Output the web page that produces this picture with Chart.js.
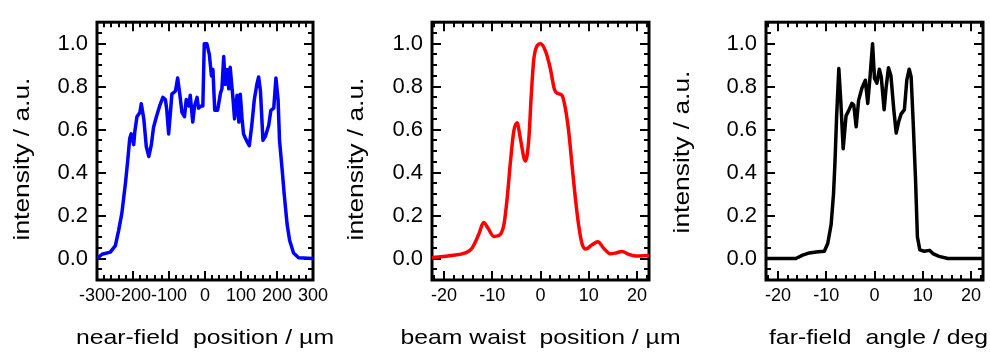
<!DOCTYPE html>
<html>
<head>
<meta charset="utf-8">
<script src="https://cdn.jsdelivr.net/npm/chart.js@4.4.1/dist/chart.umd.min.js"></script>
<style>
  body { margin: 0; background: #fff; }
  #wrap { position: relative; width: 990px; height: 356px; }
  canvas { position: absolute; top: 0; left: 0; }
</style>
</head>
<body>
<div id="wrap">
  <canvas id="near" width="990" height="356"></canvas>
  <canvas id="waist" width="990" height="356"></canvas>
  <canvas id="far" width="990" height="356"></canvas>
</div>
<script>
// near-field profile (position in µm)
const nearX = [-300, -286, -263, -249, -240, -231, -221, -215, -209, -205, -198, -195, -189, -181, -177,
  -170, -163, -156, -149, -143, -135, -126, -117, -110, -106, -101, -96, -92, -82, -76,
  -70, -64, -57, -52, -45, -41, -34, -29, -22, -18, -11, -6, -2, 5, 12,
  18, 22, 27, 35, 43, 47, 52, 56, 61, 66, 70, 78, 82, 89, 94,
  98, 103, 107, 115, 123, 130, 137, 144, 149, 154, 161, 168, 177, 183, 191,
  197, 203, 207, 214, 220, 228, 235, 246, 260, 300];
const nearY = [0.00, 0.02, 0.03, 0.06, 0.13, 0.21, 0.35, 0.45, 0.56, 0.58, 0.53, 0.59, 0.66, 0.68, 0.72,
  0.65, 0.52, 0.475, 0.53, 0.61, 0.66, 0.71, 0.75, 0.74, 0.69, 0.58, 0.68, 0.765, 0.78, 0.84,
  0.765, 0.68, 0.66, 0.74, 0.71, 0.76, 0.635, 0.71, 0.75, 0.70, 0.71, 0.71, 1.00, 1.00, 0.95,
  0.85, 0.88, 0.69, 0.69, 0.77, 0.79, 0.94, 0.81, 0.88, 0.79, 0.89, 0.74, 0.65, 0.76, 0.635,
  0.765, 0.65, 0.58, 0.55, 0.525, 0.62, 0.74, 0.81, 0.845, 0.78, 0.55, 0.57, 0.62, 0.69, 0.70,
  0.84, 0.74, 0.55, 0.42, 0.30, 0.16, 0.085, 0.026, 0.004, 0.0];

// beam waist profile (position in µm)
const waistX = [-22.5, -18.4, -15.6, -14.2, -12.8, -11.8, -10.9, -9.7, -8.7, -7.6,
  -6.95, -6.25, -5.55, -4.85, -4.2, -3.15, -2.45, -1.9, -1.4, -0.7,
  0, 1.0, 2.0, 2.9, 3.6, 4.5, 5.15, 5.85, 6.55, 7.2,
  7.9, 8.6, 9.4, 10.7, 11.9, 13.1, 14.5, 15.65, 16.9, 18.3, 19.7, 22.5];
const waistY = [0.004, 0.014, 0.026, 0.048, 0.113, 0.168, 0.142, 0.103, 0.106, 0.157,
  0.272, 0.446, 0.591, 0.632, 0.562, 0.454, 0.548, 0.765, 0.925, 0.99,
  1.0, 0.968, 0.888, 0.787, 0.768, 0.758, 0.70, 0.591, 0.432, 0.287,
  0.157, 0.07, 0.044, 0.064, 0.078, 0.048, 0.022, 0.026, 0.033, 0.019, 0.012, 0.014];

// far-field profile (angle in deg)
const farX = [-22.5, -16.3, -14.9, -13.5, -12.1, -10.4, -9.7, -9.0, -8.5, -8.2,
  -7.85, -7.4, -7.0, -6.5, -5.9, -5.4, -4.7, -4.3, -3.8, -3.3,
  -2.6, -1.9, -1.4, -0.9, -0.4, 0.0, 0.5, 1.0, 1.4, 2.0,
  2.4, 2.9, 3.4, 4.0, 4.5, 5.0, 5.5, 6.2, 6.7, 7.2,
  7.6, 8.05, 8.5, 8.9, 9.4, 10.3, 11.4, 12.1, 13.4, 15.2, 22.5];
const farY = [0, 0, 0.016, 0.026, 0.03, 0.034, 0.07, 0.157, 0.30, 0.446,
  0.664, 0.884, 0.736, 0.511, 0.664, 0.686, 0.722, 0.714, 0.613, 0.736,
  0.794, 0.83, 0.722, 0.852, 1.0, 0.838, 0.816, 0.881, 0.845, 0.693,
  0.794, 0.888, 0.852, 0.693, 0.584, 0.635, 0.672, 0.693, 0.83, 0.881,
  0.845, 0.62, 0.374, 0.10, 0.04, 0.034, 0.038, 0.023, 0.01, 0, 0];

const intensityTicks = [0, 0.2, 0.4, 0.6, 0.8, 1.0];
const nearTicks = [-300, -200, -100, 0, 100, 200, 300];
const waistTicks = [-20, -10, 0, 10, 20];
const farTicks = [-20, -10, 0, 10, 20];

const yTitle = 'intensity / a.u.';
const nearTitle = 'near-field  position / µm';
const waistTitle = 'beam waist  position / µm';
const farTitle = 'far-field  angle / deg';

const FONT = '"Liberation Sans", Arial, Helvetica, sans-serif';

// box with inward ticks on all four sides
const framePlugin = {
  id: 'frame',
  beforeDatasetsDraw(chart, args, o) {
    const { ctx, chartArea: a, scales: { x, y } } = chart;
    ctx.save();
    ctx.strokeStyle = '#000';
    ctx.lineWidth = 2;
    ctx.beginPath();
    const n0 = Math.ceil(x.min / o.xMinor), n1 = Math.floor(x.max / o.xMinor);
    for (let i = n0; i <= n1; i++) {
      const px = Math.round(x.getPixelForValue(i * o.xMinor));
      const len = i % o.xEvery === 0 ? 9 : 5;
      ctx.moveTo(px, a.bottom); ctx.lineTo(px, a.bottom - len);
      ctx.moveTo(px, a.top); ctx.lineTo(px, a.top + len);
    }
    for (let i = -1; i <= 21; i++) {
      const py = Math.round(y.getPixelForValue(i * 0.05));
      const len = i % 4 === 0 ? 9 : 5;
      ctx.moveTo(a.left, py); ctx.lineTo(a.left + len, py);
      ctx.moveTo(a.right, py); ctx.lineTo(a.right - len, py);
    }
    ctx.stroke();
    ctx.lineWidth = 3;
    ctx.strokeRect(a.left, a.top, a.right - a.left, a.bottom - a.top);
    ctx.restore();
  }
};

// axis titles, slightly stretched like the original figure
const titlePlugin = {
  id: 'titles',
  afterDraw(chart, args, o) {
    const { ctx, chartArea: a } = chart;
    ctx.save();
    ctx.fillStyle = '#000';
    ctx.font = '21px ' + FONT;
    ctx.textAlign = 'center';
    ctx.textBaseline = 'alphabetic';
    ctx.translate((a.left + a.right) / 2 + o.xShift, 344);
    ctx.scale(1.18, 1);
    ctx.fillText(o.xText, 0, 0);
    ctx.restore();

    ctx.save();
    ctx.fillStyle = '#000';
    ctx.font = '22px ' + FONT;
    ctx.textAlign = 'center';
    ctx.textBaseline = 'alphabetic';
    ctx.translate(a.left - o.yOff, o.yMid);
    ctx.rotate(-Math.PI / 2);
    ctx.scale(1.2, 1);
    ctx.fillText(yTitle, 0, 0);
    ctx.restore();
  }
};

function makePanel(id, xs, ys, color, p) {
  const points = xs.map((x, i) => ({ x: x, y: ys[i] }));
  return new Chart(document.getElementById(id), {
    type: 'line',
    data: {
      datasets: [{
        data: points,
        borderColor: color,
        borderWidth: 3.5,
        borderJoinStyle: 'round',
        pointRadius: 0,
        fill: false,
        tension: 0,
        cubicInterpolationMode: p.smooth ? 'monotone' : 'default'
      }]
    },
    options: {
      responsive: false,
      animation: false,
      devicePixelRatio: 1,
      layout: { padding: { top: 4, right: 990 - p.right, left: p.left - p.yWidth, bottom: 0 } },
      plugins: {
        legend: { display: false },
        tooltip: { enabled: false },
        frame: { xMinor: p.xMinor, xEvery: 5 },
        titles: { xText: p.title, xShift: p.xShift, yOff: p.yOff, yMid: p.yMid }
      },
      scales: {
        x: {
          type: 'linear',
          min: p.xMin,
          max: p.xMax,
          grid: { display: false, drawTicks: false },
          border: { display: false },
          afterBuildTicks: s => { s.ticks = p.xTicks.map(v => ({ value: v })); },
          afterFit: s => { s.height = 76; s.paddingLeft = 0; s.paddingRight = 0; },
          ticks: {
            color: '#000',
            font: { family: FONT, size: 18 },
            padding: 5,
            maxRotation: 0,
            autoSkip: false,
            callback: v => String(v)
          }
        },
        y: {
          type: 'linear',
          min: -0.1,
          max: 1.1,
          grid: { display: false, drawTicks: false },
          border: { display: false },
          afterBuildTicks: s => { s.ticks = intensityTicks.map(v => ({ value: v })); },
          afterFit: s => { s.width = p.yWidth; },
          ticks: {
            color: '#000',
            font: { family: FONT, size: 22 },
            padding: 9,
            callback: v => v.toFixed(1)
          }
        }
      }
    },
    plugins: [framePlugin, titlePlugin]
  });
}

makePanel('near', nearX, nearY, '#0000ff', {
  xMin: -300, xMax: 300, xTicks: nearTicks, xMinor: 20,
  left: 97, right: 313, yWidth: 90, title: nearTitle, xShift: 0, yOff: 68.5, yMid: 159
});
makePanel('waist', waistX, waistY, '#ff0000', {
  xMin: -22.5, xMax: 22.5, xTicks: waistTicks, xMinor: 2, smooth: true,
  left: 432, right: 649, yWidth: 90, title: waistTitle, xShift: 0, yOff: 69.5, yMid: 159
});
makePanel('far', farX, farY, '#000000', {
  xMin: -22.5, xMax: 22.5, xTicks: farTicks, xMinor: 2,
  left: 766, right: 983, yWidth: 90, title: farTitle, xShift: 4, yOff: 77.5, yMid: 152
});
</script>
</body>
</html>
